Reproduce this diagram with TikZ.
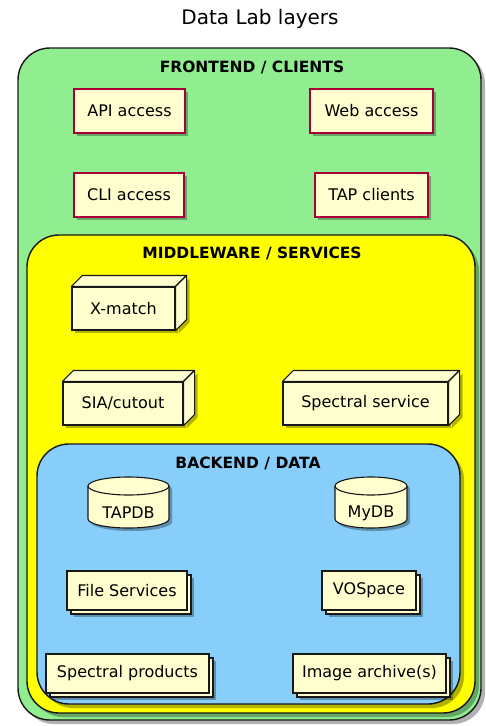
\documentclass[tikz,border=0pt]{standalone}
\usepackage{fontspec}
\setmainfont{DejaVu Sans}
\usetikzlibrary{shadows}
\definecolor{grp1}{HTML}{90EE90}
\definecolor{grp2}{HTML}{FFFF00}
\definecolor{grp3}{HTML}{87CEFA}
\definecolor{cream}{HTML}{FEFECE}
\definecolor{boxred}{HTML}{A80036}
\definecolor{edge}{HTML}{181818}
\begin{document}
\begin{tikzpicture}[x=1pt,y=-1pt,
  sh/.style={drop shadow={shadow xshift=3pt,shadow yshift=-3pt,fill=black,opacity=0.3}},
  grp/.style={draw=edge,line width=1.4pt,rounded corners=32pt,inner sep=0pt,
    drop shadow={shadow xshift=4pt,shadow yshift=-4pt,fill=black,opacity=0.3}},
  gtitle/.style={font=\fontsize{15.5}{18}\selectfont\bfseries, inner sep=0pt},
  lbl/.style={font=\fontsize{16}{19}\selectfont, inner sep=0pt},
  rbox/.style={lbl, draw=boxred, fill=cream, line width=1.2pt, sh, minimum height=44pt},
  fbox/.style={lbl, draw=edge, fill=cream, line width=1.1pt},
  coll/.style={fbox, minimum height=39pt,
    drop shadow={shadow xshift=7pt,shadow yshift=-7pt,fill=black,opacity=0.3},
    copy shadow={shadow xshift=4pt,shadow yshift=-4pt,draw=edge,fill=cream,line width=1.1pt}},
  face/.style={draw=edge, fill=cream, line width=1.1pt, line join=round},
]
\useasboundingbox (0,0) rectangle (485,726);
\fill[white] (0,0) rectangle (485,726);

\node[lbl, font=\fontsize{20}{24}\selectfont] (title) at (260,19) {Data Lab layers};

% groups
\node[grp, fill=grp1, minimum width=463pt, minimum height=672pt] (fe) at (249.5,384) {};
\node[gtitle] (fetitle) at (252,67) {FRONTEND / CLIENTS};

\node[rbox, minimum width=111pt] (api) at (129.5,111) {API access};
\node[rbox, minimum width=123pt] (web) at (371.5,111) {Web access};
\node[rbox, minimum width=110pt] (cli) at (129,195) {CLI access};
\node[rbox, minimum width=113pt] (tap) at (371.5,195) {TAP clients};

\node[grp, fill=grp2, minimum width=448pt, minimum height=478pt] (mw) at (251,474) {};
\node[gtitle] (mwtitle) at (252,253) {MIDDLEWARE / SERVICES};

% 3D nodes
\node[fbox, sh, minimum width=103pt, minimum height=43pt] (xm) at (123.5,308.5) {X-match};
\filldraw[face] (xm.north west) -- ++(11pt,11pt) -- ([shift={(11pt,11pt)}]xm.north east) -- (xm.north east) -- cycle;
\filldraw[face, sh] (xm.north east) -- ++(11pt,11pt) -- ([shift={(11pt,11pt)}]xm.south east) -- (xm.south east) -- cycle;

\node[fbox, sh, minimum width=120pt, minimum height=43pt] (sia) at (123,403.5) {SIA/cutout};
\filldraw[face] (sia.north west) -- ++(11pt,11pt) -- ([shift={(11pt,11pt)}]sia.north east) -- (sia.north east) -- cycle;
\filldraw[face, sh] (sia.north east) -- ++(11pt,11pt) -- ([shift={(11pt,11pt)}]sia.south east) -- (sia.south east) -- cycle;

\node[fbox, sh, minimum width=165pt, minimum height=43pt] (spec) at (365.5,403.5) {Spectral service};
\filldraw[face] (spec.north west) -- ++(11pt,11pt) -- ([shift={(11pt,11pt)}]spec.north east) -- (spec.north east) -- cycle;
\filldraw[face, sh] (spec.north east) -- ++(11pt,11pt) -- ([shift={(11pt,11pt)}]spec.south east) -- (spec.south east) -- cycle;

\node[grp, fill=grp3, minimum width=423pt, minimum height=260pt] (be) at (248.5,574) {};
\node[gtitle] (betitle) at (248,463) {BACKEND / DATA};

% databases
\filldraw[face, sh] (88,486) -- (88,519) arc[start angle=180,end angle=360,x radius=40.5pt,y radius=9pt]
  -- (169,486) arc[start angle=0,end angle=180,x radius=40.5pt,y radius=9pt] -- cycle;
\draw[face, fill=none] (88,486) arc[start angle=180,end angle=360,x radius=40.5pt,y radius=9pt];
\node[lbl] (tapdb) at (128.5,513) {TAPDB};

\filldraw[face, sh] (335,486) -- (335,519) arc[start angle=180,end angle=360,x radius=36pt,y radius=9pt]
  -- (407,486) arc[start angle=0,end angle=180,x radius=36pt,y radius=9pt] -- cycle;
\draw[face, fill=none] (335,486) arc[start angle=180,end angle=360,x radius=36pt,y radius=9pt];
\node[lbl] (mydb) at (371,513) {MyDB};

% collections
\node[coll, minimum width=120pt] (fs) at (127,590.5) {File Services};
\node[coll, minimum width=94pt] (vos) at (369,590.5) {VOSpace};
\node[coll, minimum width=163pt] (sp) at (127.5,673.5) {Spectral products};
\node[coll, minimum width=153pt] (ia) at (369.5,673.5) {Image archive(s)};
\end{tikzpicture}
\end{document}
